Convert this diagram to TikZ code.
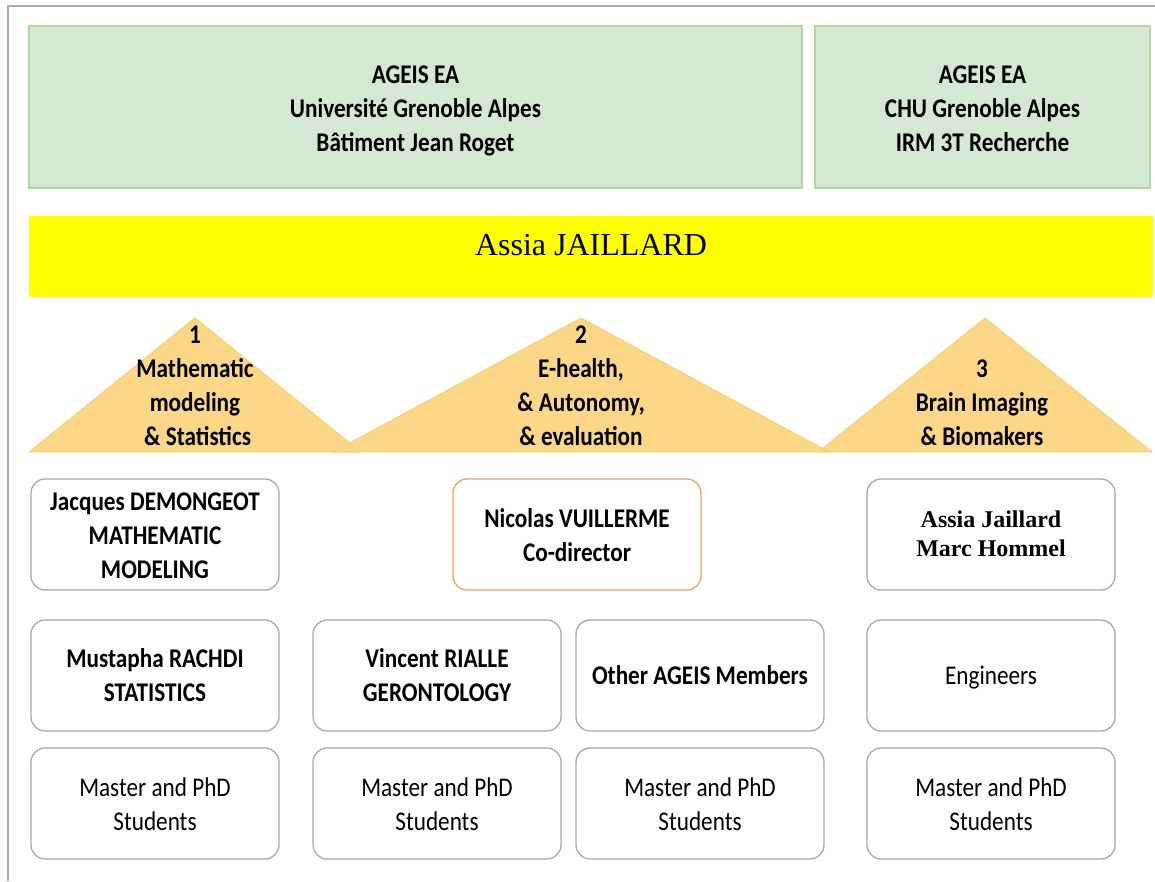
\documentclass[tikz,border=0pt]{standalone}
\usepackage{fontspec}
\newfontfamily\calfont[FakeStretch=0.86]{Carlito}
\newfontfamily\timesfont{Liberation Serif}
\definecolor{gfill}{RGB}{213,232,212}
\definecolor{gline}{RGB}{178,214,160}
\definecolor{yfill}{RGB}{255,255,0}
\definecolor{tfill}{RGB}{252,215,136}
\definecolor{tline}{RGB}{247,204,112}
\definecolor{boxgray}{RGB}{168,168,168}
\definecolor{boxorange}{RGB}{238,160,100}
\definecolor{framegray}{RGB}{172,172,172}
\begin{document}
\begin{tikzpicture}[x=1pt,y=-1pt,
  every node/.style={inner sep=0pt,outer sep=0pt},
  cal/.style={font=\calfont\fontsize{27}{34}\selectfont,align=center},
  calb/.style={font=\calfont\bfseries\fontsize{27}{34}\selectfont,align=center},
  gbox/.style={draw=gline,line width=1.2pt,fill=gfill,minimum height=162pt},
  tri/.style={fill=tfill,draw=tline,line width=0.8pt,line join=miter},
  box/.style={draw=boxgray,line width=1.3pt,rounded corners=14pt,fill=white,
              minimum width=248pt,minimum height=111pt},
  obox/.style={box,draw=boxorange}]
\useasboundingbox (0,0) rectangle (1155,881);
\draw[framegray,line width=2pt] (8,881) -- (8,6) -- (1155,6);
% top green boxes
\node[gbox,minimum width=773pt] (g1) at (415.5,107) {};
\node[calb] (g1t) at (415.5,110.5) {AGEIS EA\\Université Grenoble Alpes\\Bâtiment Jean Roget};
\node[gbox,minimum width=335pt] (g2) at (982.5,107) {};
\node[calb] (g2t) at (982.5,109) {AGEIS EA\\CHU Grenoble Alpes\\IRM 3T Recherche};
% yellow bar
\node[fill=yfill,minimum width=1124pt,minimum height=81pt] (y) at (591,256.5) {};
\node[font=\timesfont\fontsize{32}{38}\selectfont] (yt) at (591,245) {Assia JAILLARD};
% triangles
\path[tri] (29,452) -- (195,318) -- (361,452) -- cycle;
\path[tri] (818,452) -- (985,318) -- (1152,452) -- cycle;
\path[tri] (333,452) -- (581,318) -- (829,452) -- cycle;
\node[calb] (t1) at (195,385.5) {1\\Mathematic\\modeling\\\ \& Statistics};
\node[calb] (t2) at (581,385.5) {2\\E-health,\\\& Autonomy,\\\& evaluation};
\node[calb] (t3) at (982,402.5) {3\\Brain Imaging\\\& Biomakers};
% row 1
\node[box] (a1) at (155,534.5) {};
\node[calb] (a1t) at (155,535.5) {Jacques DEMONGEOT\\MATHEMATIC\\MODELING};
\node[obox] (b1) at (577,534.5) {};
\node[calb] (b1t) at (577,535.5) {Nicolas VUILLERME\\Co-director};
\node[box] (c1) at (991,534.5) {};
\node[font=\timesfont\bfseries\fontsize{24}{29}\selectfont,align=center] (c1t) at (991,534) {Assia Jaillard\\Marc Hommel};
% row 2
\node[box] (a2) at (155,675.5) {};
\node[calb] (a2t) at (a2.center) {Mustapha RACHDI\\STATISTICS};
\node[box] (b2) at (437,675.5) {};
\node[calb] (b2t) at (b2.center) {Vincent RIALLE\\GERONTOLOGY};
\node[box] (m2) at (700,675.5) {};
\node[calb] (m2t) at (m2.center) {Other AGEIS Members};
\node[box] (c2) at (991,675.5) {};
\node[cal] (c2t) at (991,677.5) {Engineers};
% row 3
\node[box] (a3) at (155,803.5) {};
\node[cal] (a3t) at (155,804.5) {Master and PhD\\Students};
\node[box] (b3) at (437,803.5) {};
\node[cal] (b3t) at (437,804.5) {Master and PhD\\Students};
\node[box] (m3) at (700,803.5) {};
\node[cal] (m3t) at (700,804.5) {Master and PhD\\Students};
\node[box] (c3) at (991,803.5) {};
\node[cal] (c3t) at (991,804.5) {Master and PhD\\Students};
\end{tikzpicture}
\end{document}
